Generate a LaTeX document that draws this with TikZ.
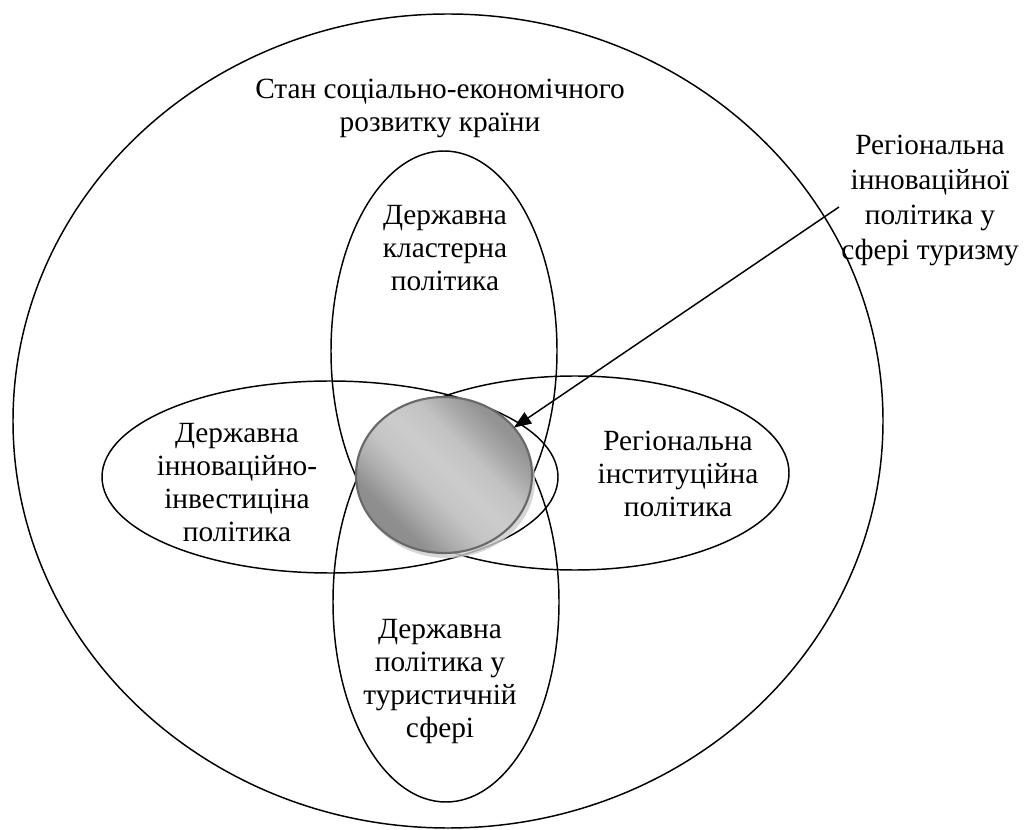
\documentclass[tikz,border=0pt]{standalone}
\usepackage{fontspec}
\setmainfont{Liberation Serif}
\usetikzlibrary{shapes.geometric,arrows.meta}
\definecolor{coreedge}{RGB}{105,105,105}
% soft grey gradient for the central core (only the middle part of the
% 100bp strip ends up inside the shape)
\pgfdeclarehorizontalshading{coregrey}{100bp}{
  rgb(0bp)=(0.52,0.52,0.52);
  rgb(30bp)=(0.56,0.56,0.56);
  rgb(37bp)=(0.68,0.68,0.68);
  rgb(44bp)=(0.77,0.77,0.77);
  rgb(52bp)=(0.80,0.80,0.80);
  rgb(60bp)=(0.76,0.76,0.76);
  rgb(67bp)=(0.65,0.65,0.65);
  rgb(72bp)=(0.58,0.58,0.58);
  rgb(100bp)=(0.52,0.52,0.52)}
\begin{document}
\begin{tikzpicture}[x=0.75pt,y=-0.75pt,
  ring/.style={ellipse,draw=black,line width=1.1pt,inner sep=0pt,outer sep=0pt},
  caption/.style={align=center,inner sep=0pt,font=\fontsize{22pt}{24.75pt}\selectfont},
  core/.style={ellipse,inner sep=0pt,outer sep=0pt,draw=coreedge,line width=1.6pt,
    shading=coregrey,shading angle=45}]
\useasboundingbox (0,0) rectangle (1025,830);
% outer region
\node[ring,minimum width=652.5pt,minimum height=610.5pt] (country) at (448,421) {};
% four overlapping policy areas
\node[ring,minimum width=169.5pt,minimum height=300pt] (cluster) at (444,351) {};
\node[ring,minimum width=169.5pt,minimum height=300pt] (tourism) at (446,602) {};
\node[ring,minimum width=342pt,minimum height=144pt] (invest) at (330,477) {};
\node[ring,minimum width=321pt,minimum height=145.5pt] (inst) at (575,473) {};
% shadow under the central core
\fill[black!20,opacity=0.8] (447,480) ellipse [x radius=66pt,y radius=58.5pt];
% central core
\node[core,minimum width=132pt,minimum height=117pt] (corearea) at (444,475) {};
% labels
\node[caption] (lcountry) at (440,108) {Стан соціально-економічного\\розвитку країни};
\node[caption] (lcluster) at (445,248) {Державна\\кластерна\\політика};
\node[caption] (linvest) at (237,483) {Державна\\інноваційно-\\інвестиціна\\політика};
\node[caption] (linst) at (678,474) {Регіональна\\інституційна\\політика};
\node[caption] (ltourism) at (440,682) {Державна\\політика у\\туристичній\\сфері};
\node[caption,font=\fontsize{22pt}{26.25pt}\selectfont] (lnote) at (930,200) {Регіональна\\інноваційної\\політика у\\сфері туризму};
% pointer from the note to the core
\coordinate (notetail) at (839,207);
\draw[line width=1.1pt,-{Triangle[length=13pt,width=10pt]}] (notetail) -- (corearea);
\end{tikzpicture}
\end{document}
